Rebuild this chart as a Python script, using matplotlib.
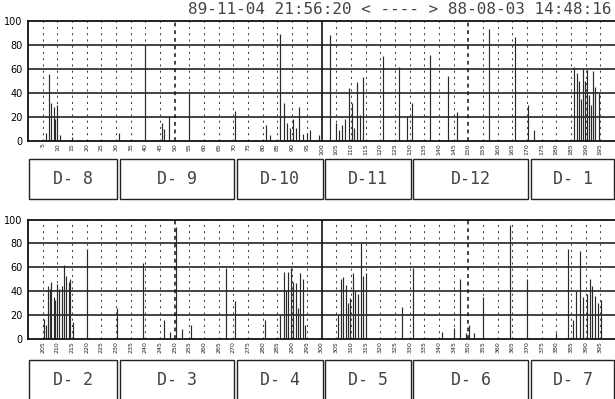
import matplotlib
matplotlib.use('Agg')
import matplotlib.pyplot as plt
from matplotlib.patches import Rectangle

title = "89-11-04 21:56:20 < ---- > 88-08-03 14:48:16"

top_channels = [6, 7, 8, 8.7, 9.3, 10, 11, 15, 31, 40, 45.5, 46.2, 48, 55, 70.5,
                81, 82.3, 86, 87.2, 88.4, 89.3, 90.2, 91.4, 92.5, 93.8, 94.9, 96, 99,
                103, 105, 106, 107, 108, 109.2, 110.4, 111.2, 112.1, 113, 114.1,
                121, 126.3, 129, 131, 137, 143.2, 146, 157, 165.8, 170.5, 172.4,
                186, 186.9, 187.7, 188.3, 189.1, 189.7, 190.4, 191.1, 191.8, 192.4, 193.2, 194.6]
top_counts = [7, 56, 32, 28, 18, 30, 5, 3, 7, 80, 15, 10, 21, 40, 25,
              13, 5, 89, 32, 15, 11, 18, 11, 28, 6, 7, 9, 5,
              88, 15, 9, 13, 18, 44, 32, 11, 49, 22, 53,
              71, 62, 20, 32, 72, 54, 24, 93, 87, 30, 9,
              62, 57, 50, 35, 60, 50, 59, 38, 30, 58, 45, 40]

bottom_channels = [205.5, 206.2, 206.9, 207.5, 208, 208.7, 209.3, 210, 210.7, 211.5, 212.3,
                   213, 213.8, 214.3, 215.2, 220, 230.2, 239.3, 246.3, 248.3, 250.3,
                   252.4, 255.4, 267.3, 270.6, 280.8, 286, 287.3, 288, 288.5, 289.6,
                   290.4, 291.2, 292, 292.8, 293.7, 294.5, 305.7, 306.5, 307.4, 308.3,
                   309, 309.8, 310.7, 311.5, 312.4, 313.3, 314.2, 315.1, 327.3, 331.3,
                   341.2, 345.2, 347.1, 349.3, 350.4, 352, 355.1, 364.2, 370, 380,
                   384.1, 385.8, 386.7, 388.1, 389.2, 390.3, 391.4, 392.3, 393.1, 394.2, 395.3]
bottom_counts = [17, 12, 44, 42, 48, 35, 33, 46, 42, 44, 62,
                 53, 48, 50, 14, 75, 26, 64, 16, 6, 94,
                 8, 12, 59, 32, 16, 20, 56, 40, 56, 59,
                 48, 47, 26, 55, 50, 12, 20, 50, 52, 45,
                 30, 34, 55, 40, 38, 80, 53, 55, 27, 59,
                 6, 9, 50, 5, 12, 5, 35, 95, 50, 5,
                 75, 16, 40, 74, 35, 38, 50, 44, 36, 30, 33]

top_group_labels = ['D- 8', 'D- 9', 'D-10', 'D-11', 'D-12', 'D- 1']
top_group_starts = [0, 31, 71, 101, 131, 171]
top_group_ends = [30, 70, 100, 130, 170, 200]
bottom_group_labels = ['D- 2', 'D- 3', 'D- 4', 'D- 5', 'D- 6', 'D- 7']
bottom_group_starts = [200, 231, 271, 301, 331, 371]
bottom_group_ends = [230, 270, 300, 330, 370, 400]

y_ticks = [0, 20, 40, 60, 80, 100]

W, H = 615, 399
fig = plt.figure(figsize=(W / 100, H / 100), dpi=100)
fig.patch.set_facecolor('white')


def rect_px(left, top, right, bottom):
    return [left / W, 1 - bottom / H, (right - left) / W, (bottom - top) / H]


def panel(ax, x0, xs, ys):
    ax.set_xlim(x0, x0 + 200)
    ax.set_ylim(0, 100)
    for y in y_ticks[1:-1]:
        ax.axhline(y, color='#111', lw=1.1, zorder=1)
    ticks = list(range(x0 + 5, x0 + 200, 5))
    for x in ticks:
        if x - x0 == 100:
            ax.axvline(x, color='#111', lw=1.2, zorder=1)
        elif x % 50 == 0:
            ax.axvline(x, color='#111', lw=1.1, ls=(0, (2.5, 2.5)), zorder=1)
        else:
            ax.axvline(x, color='#444', lw=0.75, ls=(0, (2.0, 4.0)), zorder=1)
    ax.vlines(xs, 0, ys, color='#2a2a2a', lw=0.85, zorder=2)
    ax.set_xticks(ticks)
    ax.set_xticklabels([str(t) for t in ticks], rotation=90, fontsize=4.5,
                       family='DejaVu Sans', color='#222')
    ax.set_yticks(y_ticks)
    ax.set_yticklabels([str(v) for v in y_ticks], fontsize=7, family='DejaVu Sans')
    ax.tick_params(axis='x', length=0, pad=1.5)
    ax.tick_params(axis='y', length=0, pad=4)
    ax.spines['right'].set_visible(False)
    for s in ['top', 'left', 'bottom']:
        ax.spines[s].set_linewidth(1.3)
        ax.spines[s].set_color('#111')


def boxes(ax, x0, starts, ends, labels):
    ax.set_xlim(x0, x0 + 200)
    ax.set_ylim(0, 1)
    ax.axis('off')
    for s, e, lab in zip(starts, ends, labels):
        lo = max(s + 0.25, x0 + 0.2)
        hi = min(e + 0.35, x0 + 199.8)
        ax.add_patch(Rectangle((lo, 0.0), hi - lo, 1.0, fill=False,
                               ec='#222', lw=1.0, clip_on=False))
        ax.text((lo + hi) / 2, 0.5, lab, ha='center', va='center',
                family='DejaVu Sans Mono', fontsize=12, color='#444')


ax_top = fig.add_axes(rect_px(28, 21, 615, 141))
panel(ax_top, 0, top_channels, top_counts)
ax_tb = fig.add_axes(rect_px(28, 159, 615, 199))
boxes(ax_tb, 0, top_group_starts, top_group_ends, top_group_labels)

ax_bot = fig.add_axes(rect_px(28, 219.5, 615, 339))
panel(ax_bot, 200, bottom_channels, bottom_counts)
ax_bb = fig.add_axes(rect_px(28, 360, 615, 400))
boxes(ax_bb, 200, bottom_group_starts, bottom_group_ends, bottom_group_labels)

fig.text(612 / W, 1 - 10 / H, title, ha='right', va='center',
         family='DejaVu Sans Mono', fontsize=11.5, color='#444')

fig.savefig('out.png', dpi=100, facecolor='white')
